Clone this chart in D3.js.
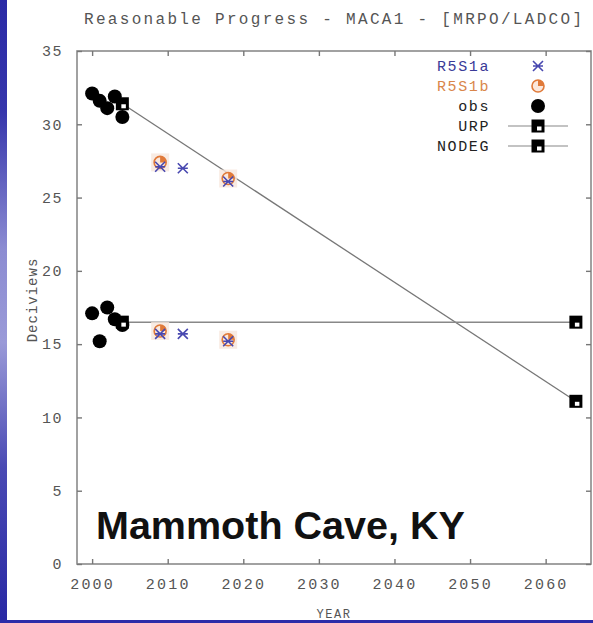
<!DOCTYPE html>
<html><head><meta charset="utf-8">
<script src="https://cdn.jsdelivr.net/npm/d3@7"></script>
<style>
html,body{margin:0;padding:0;background:#fff;}
svg{display:block;}
</style></head>
<body>
<script>
// ---- data ----
const xTicks = [2000, 2010, 2020, 2030, 2040, 2050, 2060];
const yTicks = [0, 5, 10, 15, 20, 25, 30, 35];
const obsYearsUpper = [2000, 2001, 2002, 2003, 2004];
const obsValsUpper  = [32.1, 31.6, 31.1, 31.9, 30.5];
const obsYearsLower = [2000, 2001, 2002, 2003, 2004];
const obsValsLower  = [17.1, 15.2, 17.5, 16.7, 16.3];
const urpYears = [2004, 2064];
const urpVals  = [31.4, 11.1];
const nodegYears = [2004, 2064];
const nodegVals  = [16.5, 16.5];
const r5s1aYears = [2009, 2012, 2018];
const r5s1aUpper = [27.1, 27.0, 26.1];
const r5s1aLower = [15.7, 15.7, 15.2];
const r5s1bYears = [2009, 2018];
const r5s1bUpper = [27.4, 26.3];
const r5s1bLower = [15.9, 15.3];
const legendLabels = ["R5S1a", "R5S1b", "obs", "URP", "NODEG"];
const titleText = "Reasonable Progress - MACA1 - [MRPO/LADCO]";
const siteText = "Mammoth Cave, KY";

// ---- setup ----
const W = 593, H = 623;
const svg = d3.select("body").append("svg").attr("width", W).attr("height", H);
const defs = svg.append("defs");
const grad = defs.append("linearGradient").attr("id","sideGrad").attr("x1",0).attr("y1",0).attr("x2",0).attr("y2",1);
grad.append("stop").attr("offset","0%").attr("stop-color","#2a2aa6");
grad.append("stop").attr("offset","18%").attr("stop-color","#3636ac");
grad.append("stop").attr("offset","40%").attr("stop-color","#8c8cd2");
grad.append("stop").attr("offset","55%").attr("stop-color","#9a9ad8");
grad.append("stop").attr("offset","75%").attr("stop-color","#4a4ab4");
grad.append("stop").attr("offset","100%").attr("stop-color","#2828a4");

svg.append("rect").attr("x",0).attr("y",0).attr("width",W).attr("height",H).attr("fill","#fff");

const x = d3.scaleLinear().domain([1998, 2066]).range([77, 591]);
const y = d3.scaleLinear().domain([0, 35]).range([564, 51]);
const mono = "'Liberation Mono', 'DejaVu Sans Mono', monospace";

// frame
svg.append("rect").attr("x", x(1998)).attr("y", y(35))
  .attr("width", x(2066)-x(1998)).attr("height", y(0)-y(35))
  .attr("fill","none").attr("stroke","#8a8a8a").attr("stroke-width",1.6);

// axes
const styleAxis = g => {
  g.select(".domain").remove();
  g.selectAll(".tick line").attr("stroke","#777").attr("stroke-width",1.4);
  g.selectAll(".tick text").attr("fill","#555").attr("font-family",mono).attr("font-size",15);
};
svg.append("g").attr("transform",`translate(0,${y(0)})`)
  .call(d3.axisBottom(x).tickValues(xTicks).tickFormat(d3.format("d")).tickSizeInner(-5).tickSizeOuter(0).tickPadding(14))
  .call(styleAxis)
  .call(g => g.selectAll(".tick text").attr("letter-spacing", 2.2));
svg.append("g").attr("transform",`translate(0,${y(35)})`)
  .call(d3.axisTop(x).tickValues(xTicks).tickSizeInner(-5).tickSizeOuter(0).tickFormat(""))
  .call(styleAxis);
svg.append("g").attr("transform",`translate(${x(1998)},0)`)
  .call(d3.axisLeft(y).tickValues(yTicks).tickSizeInner(-5).tickSizeOuter(0).tickPadding(14))
  .call(styleAxis)
  .call(g => g.selectAll(".tick text").attr("letter-spacing", 1.5));
svg.append("g").attr("transform",`translate(${x(2066)},0)`)
  .call(d3.axisRight(y).tickValues(yTicks).tickSizeInner(-5).tickSizeOuter(0).tickFormat(""))
  .call(styleAxis);

// titles
svg.append("text").attr("x", 333).attr("y", 24).attr("text-anchor","middle")
  .attr("font-family",mono).attr("font-size",16).attr("fill","#555")
  .attr("textLength", 498).attr("lengthAdjust","spacing").text(titleText);
svg.append("text").attr("transform","translate(37,300) rotate(-90)").attr("text-anchor","middle")
  .attr("font-family",mono).attr("font-size",14).attr("fill","#555").attr("letter-spacing",1).text("Deciviews");
svg.append("text").attr("x", 334).attr("y", 618).attr("text-anchor","middle")
  .attr("font-family",mono).attr("font-size",12).attr("fill","#555").attr("letter-spacing",1.5).text("YEAR");

// site label
svg.append("text").attr("x", 96).attr("y", 539)
  .attr("font-family","'Liberation Sans', Arial, sans-serif").attr("font-weight","bold")
  .attr("font-size",39.5).attr("fill","#111").text(siteText);

// lines
const line = d3.line().x(d => x(d[0])).y(d => y(d[1]));
svg.append("path").attr("d", line(urpYears.map((d,i)=>[d, urpVals[i]])))
  .attr("fill","none").attr("stroke","#777").attr("stroke-width",1.3);
svg.append("path").attr("d", line(nodegYears.map((d,i)=>[d, nodegVals[i]])))
  .attr("fill","none").attr("stroke","#888").attr("stroke-width",1.5);

// marker functions
const blue = "#4848b0", orange = "#e07a3a";
function starMark(g, cx, cy) {
  const s = 5;
  g.append("path").attr("d",
    `M${cx-s},${cy-s}L${cx+s},${cy+s}M${cx-s},${cy+s}L${cx+s},${cy-s}M${cx-s},${cy}L${cx+s},${cy}`)
    .attr("stroke",blue).attr("stroke-width",1.6).attr("fill","none");
}
function circMark(g, cx, cy, halo) {
  const r = 6;
  if (halo) g.append("rect").attr("x",cx-9).attr("y",cy-9).attr("width",18).attr("height",18).attr("fill","#f6e6dc").attr("opacity",0.8);
  g.append("circle").attr("cx",cx).attr("cy",cy).attr("r",r).attr("fill","#fbe8dc").attr("stroke",orange).attr("stroke-width",1.6);
  const arc = d3.arc().innerRadius(0).outerRadius(r).startAngle(0).endAngle(Math.PI/2);
  g.append("path").attr("transform",`translate(${cx},${cy})`).attr("d",arc()).attr("fill",orange);
}
function dotMark(g, cx, cy) {
  g.append("circle").attr("cx",cx).attr("cy",cy).attr("r",7).attr("fill","#000");
}
function boxMark(g, cx, cy) {
  const s = 6.5;
  g.append("rect").attr("x",cx-s).attr("y",cy-s).attr("width",2*s).attr("height",2*s).attr("fill","#000");
  g.append("rect").attr("x",cx-1).attr("y",cy+0.5).attr("width",4.5).attr("height",4).attr("fill","#fff");
}

const mk = svg.append("g");
r5s1bYears.forEach((yr,i)=>{ circMark(mk, x(yr), y(r5s1bUpper[i]), true); circMark(mk, x(yr), y(r5s1bLower[i]), true); });
r5s1aYears.forEach((yr,i)=>{ starMark(mk, x(yr), y(r5s1aUpper[i])); starMark(mk, x(yr), y(r5s1aLower[i])); });
obsYearsUpper.forEach((yr,i)=> dotMark(mk, x(yr), y(obsValsUpper[i])));
obsYearsLower.forEach((yr,i)=> dotMark(mk, x(yr), y(obsValsLower[i])));
urpYears.forEach((yr,i)=> boxMark(mk, x(yr), y(urpVals[i])));
nodegYears.forEach((yr,i)=> boxMark(mk, x(yr), y(nodegVals[i])));

// legend
const lg = svg.append("g");
const legColors = ["#3a3a98", "#d9864a", "#222", "#222", "#222"];
legendLabels.forEach((lab,i)=>{
  const ly = 66 + i*20;
  lg.append("text").attr("x",490).attr("y",ly+5).attr("text-anchor","end")
    .attr("font-family",mono).attr("font-size",15).attr("fill",legColors[i]).attr("letter-spacing",1.6).text(lab);
  if (i===0) starMark(lg, 538, ly);
  if (i===1) circMark(lg, 538, ly, false);
  if (i===2) dotMark(lg, 538, ly);
  if (i>=3) {
    lg.append("line").attr("x1",508).attr("x2",568).attr("y1",ly).attr("y2",ly).attr("stroke","#888").attr("stroke-width",1.2);
    boxMark(lg, 538, ly);
  }
});

// slide background strips
svg.append("rect").attr("x",0).attr("y",0).attr("width",7).attr("height",H).attr("fill","url(#sideGrad)");
svg.append("rect").attr("x",0).attr("y",620).attr("width",W).attr("height",3).attr("fill","#2c2ca8");
</script>
</body></html>
